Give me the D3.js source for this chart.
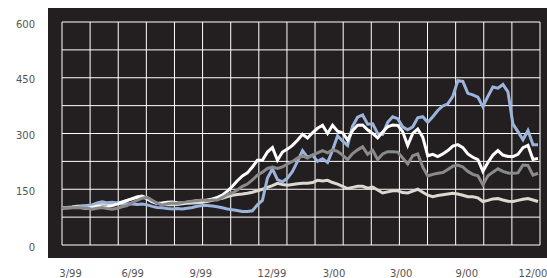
<!DOCTYPE html>
<html>
<head>
<meta charset="utf-8">
<script src="https://cdn.jsdelivr.net/npm/d3@7"></script>
<style>
  body { margin: 0; background: #fff; }
  text { font-family: "DejaVu Sans", sans-serif; font-size: 10px; fill: #555; }
</style>
</head>
<body>
<script>
// chart size
var width = 547;
var height = 278;

// weekly index values, start = 100
var blue = [100,100,101,103,104,106,108,113,116,114,115,113,110,111,110,109,110,108,104,101,
            100,98,97,98,97,99,101,104,106,106,105,103,100,97,95,93,90,90,92,108,
            120,180,205,176,170,180,198,225,254,236,242,225,232,222,255,294,280,268,320,344,
            350,325,326,300,298,330,345,340,318,310,318,342,345,330,345,362,374,380,400,442,
            440,408,404,398,372,400,425,422,432,412,325,305,283,308,270,270];
var white = [100,100,101,102,100,98,101,104,102,103,106,110,115,120,124,128,130,124,116,112,
             113,115,116,114,113,115,117,119,119,121,124,128,134,145,158,173,186,194,210,228,
             228,250,262,228,250,258,268,282,298,288,302,314,322,300,322,306,302,282,308,322,
             323,310,300,288,304,318,323,322,305,268,300,312,290,240,244,238,245,254,266,270,
             262,245,236,230,198,222,242,254,242,238,238,244,262,268,230,233];
var gray = [100,100,100,101,100,99,96,99,101,98,96,99,103,106,114,120,126,128,120,112,
            108,111,113,112,114,116,118,119,121,120,121,121,128,136,140,148,158,164,175,188,
            196,206,210,206,210,218,225,234,240,234,242,248,254,248,256,252,242,230,246,256,
            264,244,255,230,245,251,251,250,234,218,240,245,210,186,190,193,195,203,212,215,
            210,198,190,186,162,186,196,205,198,194,193,194,215,214,188,193];
var beige = [100,101,102,104,105,104,106,108,110,111,112,113,116,120,125,130,132,126,118,112,
             110,108,108,109,111,112,113,114,115,117,120,124,126,130,134,136,137,139,142,146,
             150,155,160,166,163,161,163,165,166,166,168,174,172,174,168,164,158,152,155,158,
             158,153,156,148,140,143,146,146,141,140,145,150,142,134,130,133,135,137,139,137,
             134,130,130,127,117,120,124,125,121,118,117,120,123,125,121,117];

// x axis labels and where they sit (in weeks)
var xLabels = ["3/99", "6/99", "9/99", "12/99", "3/00", "3/00", "9/00", "12/00"];
var xLabelAt = [1.7, 14.1, 27.7, 41.9, 54.3, 67.7, 80.8, 94.0];
var yTicks = [0, 150, 300, 450, 600];

var seriesList = [
  {name: "beige", values: beige, color: "#dcdad0"},
  {name: "blue", values: blue, color: "#9ab4dc"},
  {name: "white", values: white, color: "#ffffff"},
  {name: "gray", values: gray, color: "#8a8a8a"}
];

var xMax = 95.4;
var x = d3.scaleLinear().domain([0, xMax]).range([62, 540]);
var y = d3.scaleLinear().domain([0, 600]).range([245, 22]);

var svg = d3.select("body")
            .append("svg")
            .attr("width", width)
            .attr("height", height);

// black panel
svg.append("rect")
   .attr("x", 48)
   .attr("y", 8)
   .attr("width", width - 48)
   .attr("height", 250)
   .attr("fill", "#231f20");

// grid
svg.append("g")
   .selectAll("line")
   .data(d3.range(18).map(function(k) { return k * xMax / 17; }))
   .enter()
   .append("line")
   .attr("x1", function(d) { return x(d); })
   .attr("x2", function(d) { return x(d); })
   .attr("y1", y(600))
   .attr("y2", y(0))
   .attr("stroke", "#fff")
   .attr("stroke-width", 1);

svg.append("g")
   .selectAll("line")
   .data(d3.range(0, 601, 75))
   .enter()
   .append("line")
   .attr("x1", x(0))
   .attr("x2", x(xMax))
   .attr("y1", function(d) { return y(d); })
   .attr("y2", function(d) { return y(d); })
   .attr("stroke", "#fff")
   .attr("stroke-width", 1);

// y labels
svg.append("g")
   .selectAll("text")
   .data(yTicks)
   .enter()
   .append("text")
   .attr("x", 35)
   .attr("y", function(d) { return y(d) + 5.5; })
   .attr("text-anchor", "end")
   .text(function(d) { return d; });

// x labels
svg.append("g")
   .selectAll("text")
   .data(xLabels)
   .enter()
   .append("text")
   .attr("x", function(d, i) { return x(xLabelAt[i]); })
   .attr("y", 276.7)
   .attr("text-anchor", "middle")
   .text(function(d) { return d; });

// the lines
var line = d3.line()
             .x(function(d, i) { return x(i); })
             .y(function(d) { return y(d); });

svg.append("g")
   .selectAll("path")
   .data(seriesList)
   .enter()
   .append("path")
   .attr("d", function(s) { return line(s.values); })
   .attr("fill", "none")
   .attr("stroke", function(s) { return s.color; })
   .attr("stroke-width", 3)
   .attr("stroke-linejoin", "miter")
   .attr("stroke-miterlimit", 4);
</script>
</body>
</html>
